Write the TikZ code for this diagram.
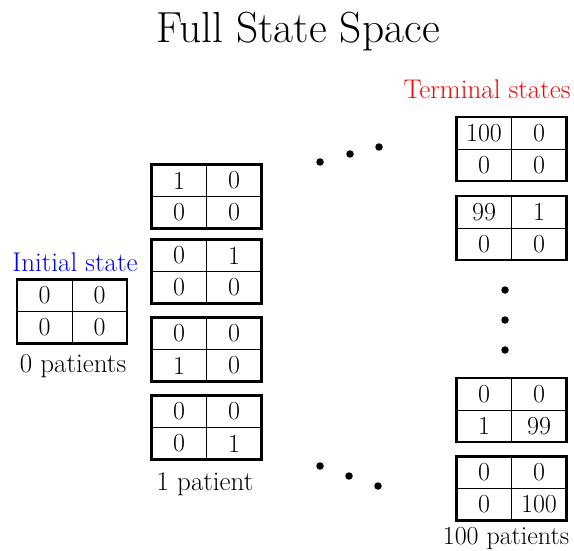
\documentclass[tikz,border=0pt]{standalone}
\usetikzlibrary{calc}
\begin{document}
\begin{tikzpicture}[x=1pt,y=-1pt,
  box/.style={draw,line width=2.5pt,minimum width=110pt,minimum height=64pt,inner sep=0pt},
  cell/.style={inner sep=0pt,font=\fontsize{26}{31}\selectfont},
  lbl/.style={inner sep=0pt,anchor=base,font=\fontsize{27}{32}\selectfont},
  dotc/.style={fill=black,circle,inner sep=0pt,minimum size=7.5pt}]
\useasboundingbox (0,0) rectangle (574,551);
\newcommand\statebox[7]{%
  \node[box] (#1) at (#2,#3) {};
  \draw[line width=0.9pt] (#1.north) -- (#1.south) (#1.west) -- (#1.east);
  \node[cell] (#1a) at ($(#1.center)+(-27.5,-16)$) {#4};
  \node[cell] (#1b) at ($(#1.center)+(27.5,-16)$) {#5};
  \node[cell] (#1c) at ($(#1.center)+(-27.5,16)$) {#6};
  \node[cell] (#1d) at ($(#1.center)+(27.5,16)$) {#7};}
\node[lbl,font=\fontsize{43.5}{52}\selectfont] (title) at (298,43) {Full State Space};
\node[lbl,text=blue] (initlbl) at (75,271) {Initial state};
\node[lbl,text=red] (termlbl) at (487,99) {Terminal states};
\statebox{s0}{72}{311.5}{0}{0}{0}{0}
\node[lbl] (p0) at (73,372) {0 patients};
\statebox{m1}{206.5}{196.5}{1}{0}{0}{0}
\statebox{m2}{206.5}{271.5}{0}{1}{0}{0}
\statebox{m3}{206.5}{349.5}{0}{0}{1}{0}
\statebox{m4}{206.5}{427.5}{0}{0}{0}{1}
\node[lbl] (p1) at (205,490) {1 patient};
\statebox{t1}{511.5}{149}{100}{0}{0}{0}
\statebox{t2}{511.5}{228}{99}{1}{0}{0}
\statebox{t3}{511.5}{410}{0}{0}{1}{99}
\statebox{t4}{511.5}{488.5}{0}{0}{0}{100}
\node[lbl,font=\fontsize{26}{31}\selectfont] (p100) at (506,544) {100 patients};
\node[dotc] (u1) at (320,162) {};
\node[dotc] (u2) at (350,154) {};
\node[dotc] (u3) at (379,147) {};
\node[dotc] (l1) at (320,466) {};
\node[dotc] (l2) at (349,476) {};
\node[dotc] (l3) at (378,486) {};
\node[dotc] (v1) at (505,290) {};
\node[dotc] (v2) at (505,320) {};
\node[dotc] (v3) at (505,350) {};
\end{tikzpicture}
\end{document}
